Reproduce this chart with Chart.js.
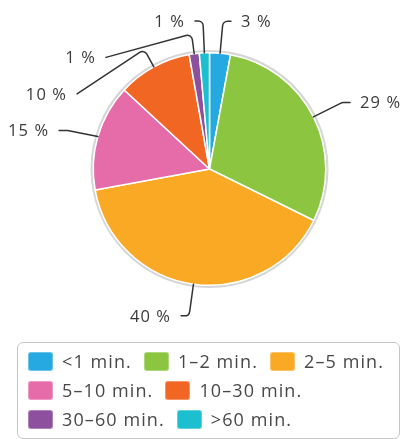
<!DOCTYPE html>
<html>
<head>
<meta charset="utf-8">
<script src="https://cdn.jsdelivr.net/npm/chart.js@4"></script>
<style>
  body { margin: 0; background: #fff; }
  #wrap { position: relative; width: 405px; height: 439px; overflow: hidden; }
  #legend {
    position: absolute; left: 17px; top: 342px; width: 383px; height: 97px;
    box-sizing: border-box; border: 1.5px solid #c6c6c6; border-radius: 6px;
    padding: 8.5px 0 0 10px; font-family: "Open Sans", sans-serif;
    font-size: 18px; letter-spacing: 1.1px; color: #484848;
    display: flex; flex-wrap: wrap; align-content: flex-start; column-gap: 12px; row-gap: 10px;
  }
  #legend .item { display: inline-flex; align-items: center; height: 19px; white-space: nowrap; }
  #legend .box { width: 25px; height: 19px; border-radius: 3px; margin-right: 9px; box-shadow: inset 0 0 0 1px rgba(255,255,255,0.3); }
</style>
</head>
<body>
<div id="wrap">
  <canvas id="chart" width="405" height="439"></canvas>
  <div id="legend"></div>
</div>
<script>
const categories = ['<1 min.', '1–2 min.', '2–5 min.', '5–10 min.', '10–30 min.', '30–60 min.', '>60 min.'];
const shares = [2.9, 29.4, 39.8, 14.8, 10.3, 1.4, 1.4];
const sliceColors = ['#25a9e0', '#8cc640', '#faa924', '#e56ca9', '#f26624', '#8c509e', '#1bbfcf'];

// gray rim round the pie
const rimPlugin = {
  id: 'rim',
  beforeDatasetsDraw(chart) {
    const arc = chart.getDatasetMeta(0).data[0];
    if (!arc) return;
    const { ctx } = chart;
    ctx.save();
    ctx.beginPath();
    ctx.arc(arc.x, arc.y, arc.outerRadius + 1.5, 0, Math.PI * 2);
    ctx.strokeStyle = '#d6d6d6';
    ctx.lineWidth = 2.5;
    ctx.stroke();
    ctx.restore();
  }
};

// outside labels with leader lines
const outLabels = {
  id: 'outLabels',
  afterDatasetsDraw(chart) {
    const { ctx } = chart;
    const meta = chart.getDatasetMeta(0);
    const items = meta.data.map((arc, i) => {
      const mid = (arc.startAngle + arc.endAngle) / 2;
      const cos = Math.cos(mid), sin = Math.sin(mid);
      const r = arc.outerRadius;
      const R = r + 32;
      return { i, cx: arc.x, cy: arc.y, r, cos, sin, right: cos > 0,
        nx: arc.x + cos * R, ny: arc.y + sin * R };
    });
    const gap = 36.5;
    [true, false].forEach(side => {
      const list = items.filter(it => it.right === side).sort((a, b) => a.ny - b.ny);
      let prev = -Infinity;
      list.forEach(it => {
        it.ly = Math.max(it.ny, prev + gap);
        prev = it.ly;
      });
    });

    ctx.save();
    ctx.strokeStyle = '#333';
    ctx.lineWidth = 1.5;
    ctx.lineJoin = 'round';
    ctx.lineCap = 'round';
    ctx.fillStyle = '#3a3a3a';
    ctx.font = '16.5px "Open Sans", sans-serif';
    ctx.letterSpacing = '1.1px';
    ctx.textBaseline = 'middle';
    items.forEach(it => {
      const dir = it.right ? 1 : -1;
      const p0 = { x: it.cx + it.cos * it.r, y: it.cy + it.sin * it.r };
      let p1, end;
      if (it.ly - it.ny < 3) {
        p1 = { x: it.nx, y: it.ly };
        end = { x: it.nx + dir * 8, y: it.ly };
      } else {
        p1 = { x: it.cx + it.cos * (it.r + 20), y: it.cy + it.sin * (it.r + 20) };
        const dy = it.ly - it.cy;
        const RA = it.r + 36;
        end = { x: it.cx + dir * Math.sqrt(Math.max(RA * RA - dy * dy, 0)), y: it.ly };
      }
      ctx.beginPath();
      ctx.moveTo(p0.x, p0.y);
      ctx.arcTo(p1.x, p1.y, end.x, end.y, 5);
      ctx.lineTo(end.x, end.y);
      ctx.stroke();
      ctx.textAlign = it.right ? 'left' : 'right';
      ctx.fillText(Math.round(shares[it.i]) + ' %', end.x + dir * 10, it.ly + 1);
    });
    ctx.restore();
  }
};

// html legend from the chart's own legend items
const htmlLegend = {
  id: 'htmlLegend',
  afterUpdate(chart) {
    const box = document.getElementById('legend');
    const labels = chart.options.plugins.legend.labels.generateLabels(chart);
    box.innerHTML = labels.map(l =>
      `<span class="item"><span class="box" style="background:${l.fillStyle}"></span>${l.text.replace('<', '&lt;').replace('>', '&gt;')}</span>`
    ).join('');
  }
};

new Chart(document.getElementById('chart'), {
  type: 'pie',
  data: {
    labels: categories,
    datasets: [{
      data: shares,
      backgroundColor: sliceColors,
      borderColor: '#fff',
      borderWidth: 1.5
    }]
  },
  options: {
    responsive: false,
    animation: false,
    devicePixelRatio: 1,
    layout: { padding: { top: 52, bottom: 153, left: 14, right: 0 } },
    plugins: {
      legend: { display: false },
      tooltip: { enabled: false }
    }
  },
  plugins: [rimPlugin, outLabels, htmlLegend]
});
</script>
</body>
</html>
